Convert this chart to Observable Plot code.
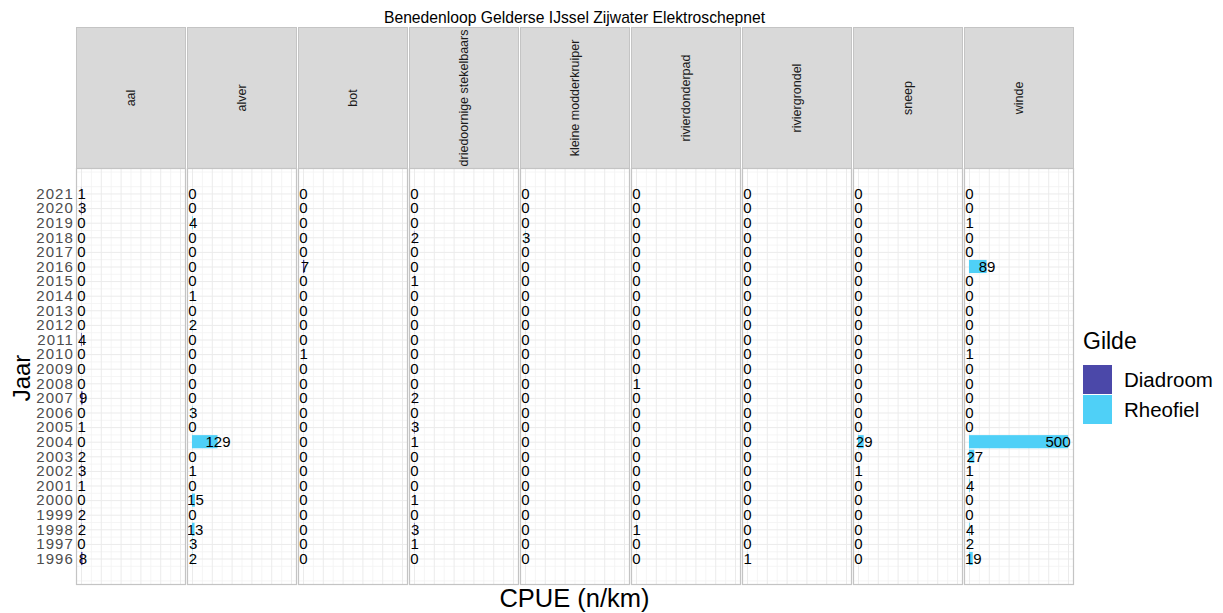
<!DOCTYPE html>
<html>
<head>
<meta charset="utf-8">
<script src="https://cdn.jsdelivr.net/npm/d3@7"></script>
<script src="https://cdn.jsdelivr.net/npm/@observablehq/plot@0.6"></script>
<style>
  body { margin: 0; background: #ffffff; }
  #root { position: relative; width: 1223px; height: 613px; font-family: "Liberation Sans", Arial, sans-serif; color: #000; overflow: hidden; background: #fff; }
  .abs { position: absolute; white-space: nowrap; line-height: 1; }
</style>
</head>
<body>
<div id="root"></div>
<script>
// ---------- data ----------
const years = [2021, 2020, 2019, 2018, 2017, 2016, 2015, 2014, 2013, 2012, 2011, 2010, 2009,
               2008, 2007, 2006, 2005, 2004, 2003, 2002, 2001, 2000, 1999, 1998, 1997, 1996];
const species = ["aal", "alver", "bot", "driedoornige stekelbaars", "kleine modderkruiper",
                 "rivierdonderpad", "riviergrondel", "sneep", "winde"];
const speciesGuild = ["Diadroom", "Rheofiel", "Diadroom", "Diadroom", "Rheofiel",
                      "Rheofiel", "Rheofiel", "Rheofiel", "Rheofiel"];
// CPUE (n/km) per year, same order as `years`
const aal            = [1, 3, 0, 0, 0, 0, 0, 0, 0, 0, 4, 0, 0, 0, 9, 0, 1, 0, 2, 3, 1, 0, 2, 2, 0, 8];
const alver          = [0, 0, 4, 0, 0, 0, 0, 1, 0, 2, 0, 0, 0, 0, 0, 3, 0, 129, 0, 1, 0, 15, 0, 13, 3, 2];
const bot            = [0, 0, 0, 0, 0, 7, 0, 0, 0, 0, 0, 1, 0, 0, 0, 0, 0, 0, 0, 0, 0, 0, 0, 0, 0, 0];
const driedoornige   = [0, 0, 0, 2, 0, 0, 1, 0, 0, 0, 0, 0, 0, 0, 2, 0, 3, 1, 0, 0, 0, 1, 0, 3, 1, 0];
const kleineModder   = [0, 0, 0, 3, 0, 0, 0, 0, 0, 0, 0, 0, 0, 0, 0, 0, 0, 0, 0, 0, 0, 0, 0, 0, 0, 0];
const rivierdonderpad= [0, 0, 0, 0, 0, 0, 0, 0, 0, 0, 0, 0, 0, 1, 0, 0, 0, 0, 0, 0, 0, 0, 0, 1, 0, 0];
const riviergrondel  = [0, 0, 0, 0, 0, 0, 0, 0, 0, 0, 0, 0, 0, 0, 0, 0, 0, 0, 0, 0, 0, 0, 0, 0, 0, 1];
const sneep          = [0, 0, 0, 0, 0, 0, 0, 0, 0, 0, 0, 0, 0, 0, 0, 0, 0, 29, 0, 1, 0, 0, 0, 0, 0, 0];
const winde          = [0, 0, 1, 0, 0, 89, 0, 0, 0, 0, 0, 1, 0, 0, 0, 0, 0, 500, 27, 1, 4, 0, 0, 4, 2, 19];
const seriesValues = [aal, alver, bot, driedoornige, kleineModder, rivierdonderpad, riviergrondel, sneep, winde];

const guilds = ["Diadroom", "Rheofiel"];
const guildColors = ["#4b48a9", "#4fd0f7"];
const xMajor = [0, 100, 200, 300, 400, 500];
const xMinor = [50, 150, 250, 350, 450];

const titleText = "Benedenloop Gelderse IJssel Zijwater Elektroschepnet";
const xTitle = "CPUE (n/km)";
const yTitle = "Jaar";
const legendTitle = "Gilde";

// ---------- table ----------
const rows = [];
species.forEach((s, i) => {
  seriesValues[i].forEach((v, j) => {
    rows.push({species: s, guild: speciesGuild[i], year: years[j], value: v});
  });
});
const yMinor = [years[years.length - 1] - 1.5].concat(years.map(y => y - 0.5), [years[0] + 0.5, years[0] + 1.5]);

const root = document.getElementById("root");
const W = 1080, ML = 75, MR = W - 1074;
const fxOpts = {domain: species, paddingInner: 0.022, paddingOuter: 0, axis: null, label: null};

// ---------- title ----------
const t = document.createElement("div");
t.className = "abs";
t.style.cssText = "left:75px;width:999px;top:10px;text-align:center;font-size:15.7px;color:#000;";
t.textContent = titleText;
root.appendChild(t);

// ---------- strips ----------
const strip = Plot.plot({
  width: W, height: 141,
  marginLeft: ML, marginRight: MR, marginTop: 0, marginBottom: 0,
  fx: fxOpts,
  style: {fontFamily: "Liberation Sans, Arial, sans-serif", background: "transparent", overflow: "visible"},
  marks: [
    Plot.frame({fill: "#d9d9d9", stroke: "#c4c4c4", strokeWidth: 1}),
    Plot.text(species, {fx: d => d, text: d => d, frameAnchor: "middle", rotate: -90,
                        fontSize: 12.5, fill: "#1a1a1a"})
  ]
});
strip.style.position = "absolute";
strip.style.left = "0px";
strip.style.top = "27px";
root.appendChild(strip);

// ---------- panels ----------
const main = Plot.plot({
  width: W, height: 416,
  marginLeft: ML, marginRight: MR, marginTop: 0, marginBottom: 0,
  fx: fxOpts,
  x: {domain: [-25, 525], axis: null},
  y: {domain: [1994.255, 2022.745], axis: null},
  color: {domain: guilds, range: guildColors},
  style: {fontFamily: "Liberation Sans, Arial, sans-serif", background: "transparent", overflow: "visible"},
  marks: [
    Plot.frame({fill: "#ffffff", stroke: "none"}),
    Plot.gridX(xMinor, {stroke: "#f3f3f3", strokeOpacity: 1, strokeWidth: 0.8}),
    Plot.gridY(yMinor, {stroke: "#f3f3f3", strokeOpacity: 1, strokeWidth: 0.8}),
    Plot.gridX(xMajor, {stroke: "#ebebeb", strokeOpacity: 1, strokeWidth: 1}),
    Plot.gridY(years, {stroke: "#ebebeb", strokeOpacity: 1, strokeWidth: 1}),
    Plot.rect(rows, {fx: "species", x1: d => 0, x2: "value",
                     y1: d => d.year - 0.45, y2: d => d.year + 0.45, fill: "guild"}),
    Plot.text(rows.filter(d => d.value < 450), {fx: "species", x: "value", y: "year",
              text: d => String(d.value), fontSize: 15, fill: "#000", textAnchor: "middle"}),
    Plot.text(rows.filter(d => d.value >= 450), {fx: "species", x: "value", y: "year",
              text: d => String(d.value), fontSize: 15, fill: "#000", textAnchor: "end", dx: 2}),
    Plot.frame({stroke: "#c4c4c4", strokeWidth: 1.2}),
    Plot.axisY({ticks: years, tickFormat: "d", tickSize: 0, tickPadding: 2.5,
                fontSize: 15, color: "#4d4d4d", label: null, style: "letter-spacing:1px"})
  ]
});
main.style.position = "absolute";
main.style.left = "0px";
main.style.top = "168px";
root.appendChild(main);
main.querySelectorAll("[aria-label='y-axis tick label'] text").forEach(el => el.setAttribute("letter-spacing", "1.1"));

// ---------- axis titles ----------
const xt = document.createElement("div");
xt.className = "abs";
xt.style.cssText = "left:75px;width:999px;top:586px;text-align:center;font-size:25.5px;color:#000;";
xt.textContent = xTitle;
root.appendChild(xt);

const yt = document.createElement("div");
yt.className = "abs";
yt.style.cssText = "left:-28px;width:100px;top:366px;text-align:center;font-size:24px;color:#000;transform:rotate(-90deg);transform-origin:50% 50%;";
yt.textContent = yTitle;
root.appendChild(yt);

// ---------- legend ----------
const lt = document.createElement("div");
lt.className = "abs";
lt.style.cssText = "left:1083px;top:330px;font-size:23px;color:#000;";
lt.textContent = legendTitle;
root.appendChild(lt);
guilds.forEach((g, i) => {
  const key = document.createElement("div");
  key.className = "abs";
  key.style.cssText = `left:1083px;top:${365 + i * 30}px;width:29px;height:29px;background:${guildColors[i]};`;
  root.appendChild(key);
  const lab = document.createElement("div");
  lab.className = "abs";
  lab.style.cssText = `left:1124px;top:${370 + i * 30}px;font-size:20.5px;color:#000;`;
  lab.textContent = g;
  root.appendChild(lab);
});
</script>
</body>
</html>
